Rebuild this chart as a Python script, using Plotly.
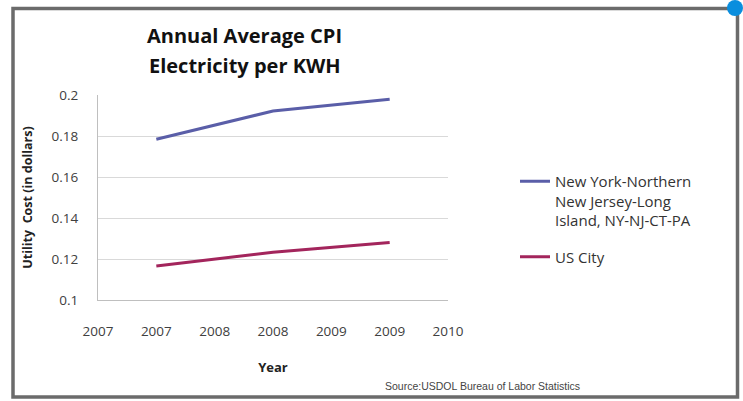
import plotly.graph_objs as go

# data
years = [2007, 2008, 2009]
ny_cost = [0.1784, 0.1922, 0.1979]
us_cost = [0.1166, 0.1233, 0.1280]
tick_vals = [2006.5, 2007, 2007.5, 2008, 2008.5, 2009, 2009.5]
tick_text = ['2007', '2007', '2008', '2008', '2009', '2009', '2010']
y_ticks = [0.1, 0.12, 0.14, 0.16, 0.18, 0.2]
y_text = ['0.1', '0.12', '0.14', '0.16', '0.18', '0.2']
ny_name = 'New York-Northern<br>New Jersey-Long<br>Island, NY-NJ-CT-PA'
us_name = 'US City'

W, H = 743, 401
font_main = '"Open Sans", Lato, sans-serif'

trace_ny = go.Scatter(
    x=years, y=ny_cost, mode='lines', name=ny_name, legendgroup='ny',
    line=dict(color='#5a5ea8', width=3)
)
trace_us = go.Scatter(
    x=years, y=us_cost, mode='lines', name=us_name, legendgroup='us',
    line=dict(color='#a3255c', width=3)
)

layout = go.Layout(
    width=W, height=H,
    margin=dict(l=0, r=0, t=0, b=0),
    paper_bgcolor='white',
    plot_bgcolor='white',
    font=dict(family=font_main, size=12, color='#404040'),
    xaxis=dict(
        domain=[98 / W, 448 / W],
        range=[2006.5, 2009.5],
        tickvals=tick_vals, ticktext=tick_text,
        showgrid=False, zeroline=False, automargin=False,
        showline=True, linecolor='#bfbfbf', linewidth=1,
        ticks='', ticklabelstandoff=19,
        tickfont=dict(size=13.5, color='#404040'),
        title=dict(text='<b>Year</b>', font=dict(size=13, color='#222'), standoff=23),
    ),
    yaxis=dict(
        domain=[1 - 300 / H, 1 - 95 / H],
        range=[0.1, 0.2],
        tickvals=y_ticks, ticktext=y_text,
        showgrid=True, gridcolor='#d9d9d9', gridwidth=1,
        zeroline=False, automargin=False,
        showline=True, linecolor='#bfbfbf', linewidth=1,
        ticks='', ticklabelstandoff=16,
        tickfont=dict(size=13.5, color='#404040'),
        title=dict(text='<b>Utility  Cost (in dollars)</b>', font=dict(size=12.5, color='#222'), standoff=16),
    ),
    showlegend=True,
    legend=dict(
        x=515 / W, y=1 - 165 / H, xanchor='left', yanchor='top',
        font=dict(size=15, color='#333'), valign='top',
        bgcolor='rgba(0,0,0,0)', tracegroupgap=14, traceorder='grouped',
    ),
    annotations=[
        dict(
            x=245 / W, y=1 - 36 / H, xref='paper', yref='paper',
            xanchor='center', yanchor='middle',
            text='<b>Annual Average CPI</b>',
            showarrow=False, font=dict(size=20, color='#111'),
        ),
        dict(
            x=245 / W, y=1 - 66 / H, xref='paper', yref='paper',
            xanchor='center', yanchor='middle',
            text='<b>Electricity per KWH</b>',
            showarrow=False, font=dict(size=20, color='#111'),
        ),
        dict(
            x=482 / W, y=1 - 386 / H, xref='paper', yref='paper',
            xanchor='center', yanchor='middle',
            text='Source:USDOL Bureau of Labor Statistics',
            showarrow=False, font=dict(family='"Liberation Sans Narrow", sans-serif', size=10.5, color='#444'),
        ),
    ],
    shapes=[
        dict(type='rect', xref='paper', yref='paper',
             x0=13 / W, x1=737.5 / W, y0=1 - 397 / H, y1=1 - 8.5 / H,
             line=dict(color='#6b6b6b', width=3.5), fillcolor='rgba(0,0,0,0)'),
        dict(type='circle', xref='paper', yref='paper',
             xsizemode='pixel', ysizemode='pixel',
             xanchor=735 / W, yanchor=1 - 8 / H,
             x0=-8, x1=8, y0=-8, y1=8,
             line=dict(width=0), fillcolor='#0a8ede'),
    ],
)

fig = go.Figure(data=[trace_ny, trace_us], layout=layout)
# the page body has a default 8px margin; drop it so the figure sits at 0,0
fig.write_html("out.html", config={'displayModeBar': False},
               post_script="document.body.style.margin='0';")
